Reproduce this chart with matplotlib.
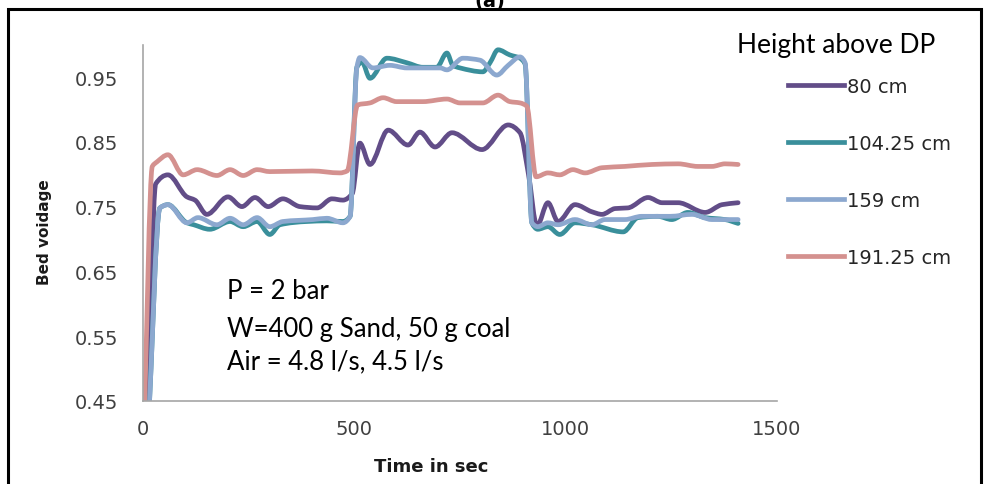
import numpy as np
import matplotlib
matplotlib.use("Agg")
import matplotlib.pyplot as plt
from matplotlib.path import Path
from matplotlib.patches import PathPatch, Rectangle
from matplotlib.lines import Line2D

# ---------------- data ----------------
series_labels = ["80 cm", "104.25 cm", "159 cm", "191.25 cm"]

t_80 = [10, 30, 59, 104, 123, 151, 201, 234, 265, 296, 331, 371, 412, 447, 473, 495, 513, 537, 580, 627,
        655, 691, 731, 802, 864, 892, 912, 932, 958, 982, 1022, 1062, 1086, 1117, 1147, 1195, 1228, 1266,
        1330, 1370, 1408]
v_80 = [0.40, 0.785, 0.799, 0.765, 0.760, 0.738, 0.765, 0.750, 0.764, 0.750, 0.762, 0.750, 0.748, 0.762,
        0.760, 0.770, 0.848, 0.815, 0.868, 0.845, 0.865, 0.842, 0.864, 0.838, 0.876, 0.864, 0.800, 0.720,
        0.756, 0.727, 0.753, 0.742, 0.738, 0.747, 0.748, 0.764, 0.756, 0.756, 0.741, 0.753, 0.756]

t_104 = [12, 40, 59, 104, 120, 158, 206, 237, 270, 300, 324, 388, 435, 473, 490, 506, 518, 537, 577, 624,
         662, 695, 719, 733, 750, 804, 821, 840, 868, 892, 904, 920, 934, 958, 986, 1022, 1062, 1136, 1171,
         1218, 1251, 1289, 1330, 1377, 1408]
v_104 = [0.40, 0.748, 0.753, 0.725, 0.722, 0.715, 0.727, 0.719, 0.727, 0.707, 0.722, 0.727, 0.728, 0.727,
         0.735, 0.965, 0.973, 0.948, 0.979, 0.972, 0.965, 0.965, 0.987, 0.968, 0.964, 0.958, 0.972, 0.992,
         0.984, 0.979, 0.970, 0.725, 0.715, 0.719, 0.707, 0.725, 0.722, 0.711, 0.733, 0.735, 0.730, 0.741,
         0.733, 0.730, 0.724]

t_159 = [12, 40, 59, 104, 130, 175, 206, 237, 270, 300, 331, 402, 435, 473, 490, 506, 513, 544, 584, 624,
         672, 703, 719, 757, 797, 837, 864, 892, 904, 920, 934, 958, 982, 1022, 1062, 1093, 1140, 1180,
         1247, 1299, 1346, 1408]
v_159 = [0.40, 0.748, 0.753, 0.725, 0.733, 0.722, 0.732, 0.722, 0.733, 0.719, 0.727, 0.730, 0.732, 0.725,
         0.735, 0.965, 0.980, 0.964, 0.968, 0.964, 0.964, 0.964, 0.961, 0.979, 0.976, 0.953, 0.968, 0.981,
         0.972, 0.725, 0.719, 0.725, 0.722, 0.730, 0.722, 0.730, 0.730, 0.735, 0.735, 0.738, 0.730, 0.730]

t_191 = [2, 22, 33, 59, 95, 128, 175, 206, 237, 270, 300, 400, 466, 483, 508, 537, 568, 600, 662, 719,
         750, 804, 840, 868, 892, 908, 930, 958, 986, 1017, 1046, 1086, 1140, 1204, 1266, 1313, 1346, 1377,
         1408]
v_191 = [0.40, 0.812, 0.819, 0.830, 0.799, 0.807, 0.798, 0.807, 0.798, 0.807, 0.804, 0.805, 0.802, 0.805,
         0.907, 0.910, 0.918, 0.912, 0.912, 0.916, 0.910, 0.910, 0.922, 0.912, 0.910, 0.905, 0.796, 0.802,
         0.799, 0.807, 0.802, 0.810, 0.812, 0.815, 0.816, 0.812, 0.812, 0.816, 0.815]

x_ticks = [0, 500, 1000, 1500]
y_ticks = [0.45, 0.55, 0.65, 0.75, 0.85, 0.95]
annotation_lines = ["P = 2 bar", "W=400 g Sand, 50 g coal", "Air = 4.8 l/s, 4.5 l/s"]

colors = ["#624d88", "#3a8f9b", "#8ca8cf", "#d4918f"]

# ---------------- figure ----------------
W, H = 987, 485
fig = plt.figure(figsize=(W / 100, H / 100), dpi=100)
fig.patch.set_facecolor("white")


def fx(px):
    return px / W


def fy(py):
    return 1 - py / H


ax = fig.add_axes([fx(143), fy(402), (777 - 143) / W, (402 - 45.6) / H])
ax.set_xlim(0, 1500)
ax.set_ylim(0.45, 1.0)


def smooth_path(x, y):
    """Monotone cubic (PCHIP-style) Bezier path through the data points."""
    x = np.asarray(x, float)
    y = np.asarray(y, float)
    n = len(x)
    h = np.diff(x)
    s = np.diff(y) / h
    d = np.zeros(n)
    for k in range(1, n - 1):
        if s[k - 1] * s[k] > 0:
            w1 = 2 * h[k] + h[k - 1]
            w2 = h[k] + 2 * h[k - 1]
            d[k] = (w1 + w2) / (w1 / s[k - 1] + w2 / s[k])
    d[0] = s[0]
    d[-1] = s[-1]
    verts = [(x[0], y[0])]
    codes = [Path.MOVETO]
    for i in range(n - 1):
        verts += [(x[i] + h[i] / 3, y[i] + d[i] * h[i] / 3),
                  (x[i + 1] - h[i] / 3, y[i + 1] - d[i + 1] * h[i] / 3),
                  (x[i + 1], y[i + 1])]
        codes += [Path.CURVE4] * 3
    return Path(verts, codes)


lw = 3.4
all_series = [(t_80, v_80), (t_104, v_104), (t_159, v_159), (t_191, v_191)]
for (t, v), c in zip(all_series, colors):
    patch = PathPatch(smooth_path(t, v), facecolor="none", edgecolor=c, lw=lw,
                      capstyle="round", joinstyle="round")
    ax.add_patch(patch)

for s in ["top", "right"]:
    ax.spines[s].set_visible(False)
for s in ["left", "bottom"]:
    ax.spines[s].set_color("#a6a6a6")
    ax.spines[s].set_linewidth(1.2)

ax.set_xticks(x_ticks)
ax.set_xticklabels([str(x) for x in x_ticks])
ax.set_yticks(y_ticks)
ax.set_yticklabels(["%.2f" % y for y in y_ticks])
ax.tick_params(axis="both", length=0, labelsize=14, labelcolor="#404040")
ax.tick_params(axis="y", pad=18)
ax.tick_params(axis="x", pad=13)

# axis titles
fig.text(fx(45), fy(232), "Bed voidage", rotation=90, fontsize=11, fontweight="bold",
         ha="center", va="center", color="#1a1a1a")
fig.text(fx(431), fy(467), "Time in sec", fontsize=13, fontweight="bold",
         ha="center", va="center", color="#1a1a1a")

# legend
handles = [Line2D([], [], color=c, lw=lw) for c in colors]
leg = ax.legend(handles, series_labels, loc="upper left", bbox_to_anchor=(fx(788), fy(78)),
                bbox_transform=fig.transFigure, frameon=False, fontsize=14, handlelength=2.9,
                handletextpad=0.15, labelspacing=1.95, borderpad=0, borderaxespad=0)
for txt in leg.get_texts():
    txt.set_color("#262626")
fig.text(fx(737), fy(45), "Height above DP", fontsize=19, family="Lato", ha="left", va="center",
         color="black")

# annotation text
for line, py in zip(annotation_lines, [292, 330, 362]):
    fig.text(fx(227), fy(py), line, fontsize=18.5, family="Lato", ha="left", va="center", color="black")

# outer frame and the partly cut panel title
fig.add_artist(Rectangle((fx(8), fy(530)), (981 - 8) / W, (530 - 10) / H, transform=fig.transFigure,
                         fill=False, ec="black", lw=2.2))
fig.text(fx(490), fy(2), "(a)", fontsize=14, fontweight="bold", ha="center", va="center")

fig.savefig("out.png", dpi=100)
